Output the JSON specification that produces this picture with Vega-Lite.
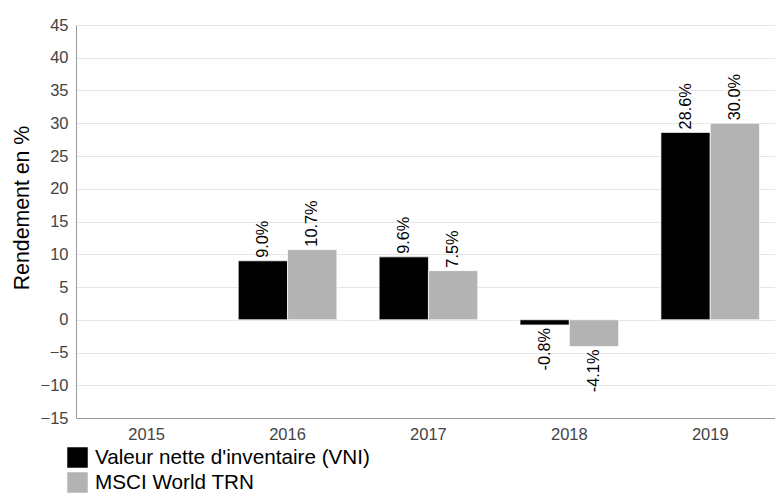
{
  "$schema": "https://vega.github.io/schema/vega-lite/v6.json",
  "width": 699,
  "height": 393,
  "autosize": {"type": "none"},
  "padding": {"left": 76, "top": 25, "right": 0, "bottom": 83},
  "background": "white",
  "config": {
    "view": {"stroke": null},
    "font": "Liberation Sans",
    "axis": {"labelFont": "Liberation Sans", "titleFont": "Liberation Sans"},
    "legend": {"labelFont": "Liberation Sans"}
  },
  "data": {
    "values": [
      {"year": "2016", "series": "Valeur nette d'inventaire (VNI)", "value": 9.0, "label": "9.0%"},
      {"year": "2016", "series": "MSCI World TRN", "value": 10.7, "label": "10.7%"},
      {"year": "2017", "series": "Valeur nette d'inventaire (VNI)", "value": 9.6, "label": "9.6%"},
      {"year": "2017", "series": "MSCI World TRN", "value": 7.5, "label": "7.5%"},
      {"year": "2018", "series": "Valeur nette d'inventaire (VNI)", "value": -0.8, "label": "-0.8%"},
      {"year": "2018", "series": "MSCI World TRN", "value": -4.1, "label": "-4.1%"},
      {"year": "2019", "series": "Valeur nette d'inventaire (VNI)", "value": 28.6, "label": "28.6%"},
      {"year": "2019", "series": "MSCI World TRN", "value": 30.0, "label": "30.0%"}
    ]
  },
  "encoding": {
    "x": {
      "field": "year", "type": "nominal",
      "scale": {"domain": ["2015", "2016", "2017", "2018", "2019"], "paddingInner": 0.3, "paddingOuter": 0.1305, "align": 0.58},
      "axis": {"title": null, "labelAngle": 0, "ticks": false, "domainColor": "#999999", "labelColor": "#444444", "labelFontSize": 16.5, "labelPadding": 8, "grid": false}
    },
    "xOffset": {
      "field": "series", "type": "nominal",
      "scale": {"domain": ["Valeur nette d'inventaire (VNI)", "MSCI World TRN"], "paddingInner": 0, "paddingOuter": 0}
    },
    "y": {
      "field": "value", "type": "quantitative",
      "scale": {"domain": [-15, 45], "nice": false, "zero": false},
      "axis": {"title": "Rendement en %", "values": [-15, -10, -5, 0, 5, 10, 15, 20, 25, 30, 35, 40, 45], "ticks": false, "domainColor": "#999999", "gridColor": "#e6e6e6", "labelColor": "#444444", "labelFontSize": 16.5, "labelPadding": 8, "titleFontSize": 21.3, "titleFontWeight": "normal", "titleColor": "#000000", "titleX": -48, "titleY": 182.5, "titleBaseline": "alphabetic", "titleAngle": 270}
    }
  },
  "layer": [
    {
      "mark": {"type": "bar", "stroke": "white", "strokeWidth": 0.7},
      "encoding": {
        "color": {
          "field": "series", "type": "nominal",
          "scale": {"domain": ["Valeur nette d'inventaire (VNI)", "MSCI World TRN"], "range": ["#000000", "#b3b3b3"]},
          "legend": {"title": null, "orient": "none", "legendX": -9, "legendY": 422, "symbolType": "square", "symbolSize": 420, "symbolStrokeWidth": 0, "labelFontSize": 20.7, "labelColor": "#000000", "labelOffset": 7, "labelLimit": 0, "rowPadding": 3, "padding": 0}
        }
      }
    },
    {
      "transform": [{"filter": "datum.value >= 0"}],
      "mark": {"type": "text", "angle": 270, "align": "left", "baseline": "middle", "dx": 3, "fontSize": 16.3, "color": "#000000"},
      "encoding": {"text": {"field": "label"}}
    },
    {
      "transform": [{"filter": "datum.value < 0"}],
      "mark": {"type": "text", "angle": 270, "align": "right", "baseline": "middle", "dx": -3, "fontSize": 16.3, "color": "#000000"},
      "encoding": {"text": {"field": "label"}}
    }
  ]
}
